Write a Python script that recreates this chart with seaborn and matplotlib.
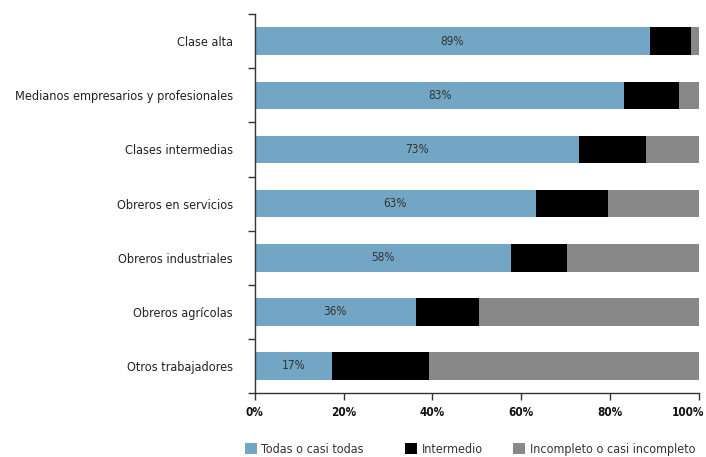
import numpy as np
import pandas as pd
import seaborn as sns
import matplotlib.pyplot as plt
import matplotlib.transforms as mtransforms
from matplotlib.patches import Patch
from matplotlib.ticker import FixedLocator, PercentFormatter

# ------------------------
# Data
# ------------------------
categories = [
    "Clase alta",
    "Medianos empresarios y profesionales",
    "Clases intermedias",
    "Obreros en servicios",
    "Obreros industriales",
    "Obreros agrícolas",
    "Otros trabajadores",
]
todas = [88.9, 83.2, 73.0, 63.2, 57.6, 36.3, 17.3]
intermedio = [9.3, 12.3, 15.0, 16.4, 12.7, 14.1, 22.0]
incompleto = [100 - a - b for a, b in zip(todas, intermedio)]

series_names = ["Todas o casi todas", "Intermedio", "Incompleto o casi incompleto"]
colors = ["#72a6c4", "#000000", "#888888"]

df = pd.DataFrame({
    "Categoria": categories,
    "Todas": todas,
    "Intermedio": intermedio,
    "Incompleto": incompleto,
})
df["cum1"] = df["Todas"]
df["cum2"] = df["Todas"] + df["Intermedio"]
df["cum3"] = df["cum2"] + df["Incompleto"]

# ------------------------
# Plot
# ------------------------
sns.set_style("white")
plt.rcParams["font.family"] = ["DejaVu Sans"]
plt.rcParams["font.stretch"] = "condensed"

fig = plt.figure(figsize=(7.06, 4.57), dpi=100)
ax = fig.add_axes([0.361, 0.140, 0.629, 0.829])

# draw back to front so the stack shows
for col, c in zip(["cum3", "cum2", "cum1"], colors[::-1]):
    sns.barplot(data=df, y="Categoria", x=col, orient="h", color=c,
                width=0.51, saturation=1, ax=ax, linewidth=0)

for i, v in enumerate(todas):
    ax.text(v / 2, i, f"{round(v)}%", ha="center", va="center",
            fontsize=8.5, color="#333333")

ax.set_xlim(0, 100)
ax.set_ylim(6.5, -0.5)
ax.set_xlabel("")
ax.set_ylabel("")
ax.xaxis.set_major_locator(FixedLocator([0, 20, 40, 60, 80, 100]))
ax.xaxis.set_major_formatter(PercentFormatter(decimals=0))
ax.tick_params(axis="x", bottom=True, length=5, width=1, color="#333333",
               labelsize=8.5, labelcolor="#111111", pad=4, direction="out")
ax.tick_params(axis="y", which="major", left=True, length=0, labelsize=9.1,
               labelcolor="#222222", pad=16)
ax.yaxis.set_minor_locator(FixedLocator(np.arange(-0.5, 7, 1)))
ax.tick_params(axis="y", which="minor", left=True, length=5, width=1,
               color="#333333", direction="out")

xlabels = ax.get_xticklabels()
for lab in xlabels:
    lab.set_fontweight("bold")
# keep "100%" inside the figure, like the reference
shift = mtransforms.ScaledTranslation(-11 / 100, 0, fig.dpi_scale_trans)
xlabels[-1].set_transform(xlabels[-1].get_transform() + shift)

for s in ["top", "right"]:
    ax.spines[s].set_visible(False)
for s in ["left", "bottom"]:
    ax.spines[s].set_color("#333333")
    ax.spines[s].set_linewidth(1)

# legend entries placed one by one, like the reference
leg_x = [0.347, 0.574, 0.727]
for name, c, x0 in zip(series_names, colors, leg_x):
    leg = fig.legend([Patch(facecolor=c, edgecolor="none")], [name],
                     loc="center left", bbox_to_anchor=(x0, 0.0175),
                     frameon=False, fontsize=9, borderpad=0, borderaxespad=0,
                     handlelength=0.95, handleheight=0.95, handletextpad=0.35,
                     labelcolor="#333333")

fig.savefig("out.png", dpi=100)
